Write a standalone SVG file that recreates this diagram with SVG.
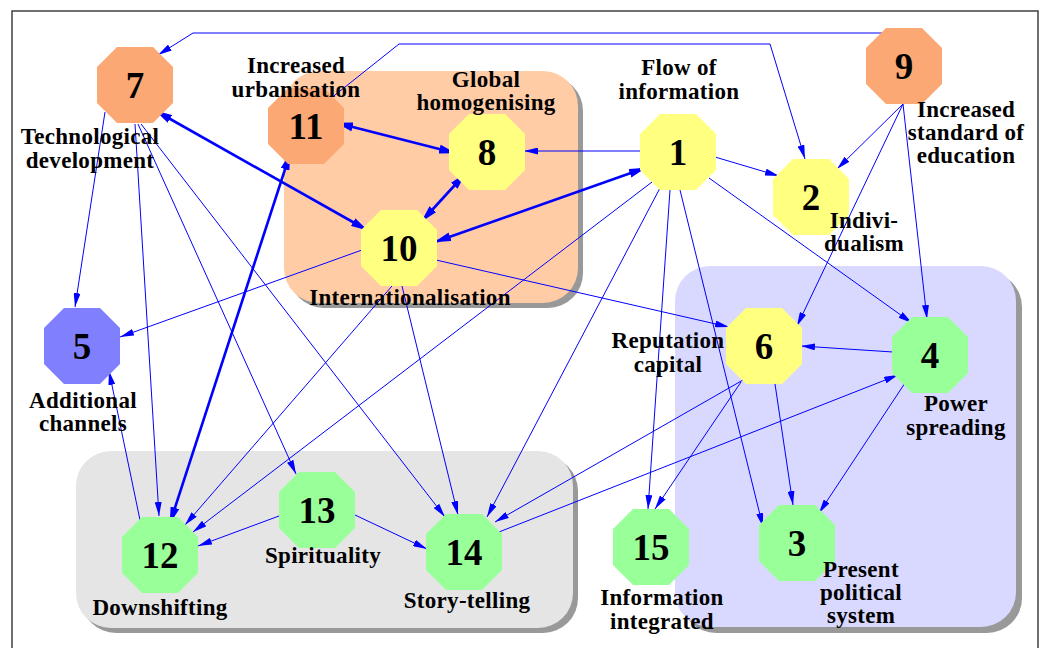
<svg xmlns="http://www.w3.org/2000/svg" xmlns:xlink="http://www.w3.org/1999/xlink" width="1042" height="648" viewBox="0 0 1042 648">
<style>
.frame{fill:#fff;stroke:#404040;stroke-width:1.5}
.shadow{fill:#999}
.e{fill:none;stroke:#0000ff;stroke-width:1;marker-end:url(#a)}
.t{fill:none;stroke:#0000ff;stroke-width:2.6;marker-start:url(#b);marker-end:url(#b)}
.num{font-family:"Liberation Serif","Times New Roman",serif;font-weight:bold;font-size:37px;text-anchor:middle;fill:#000}
.lb{font-family:"Liberation Serif","Times New Roman",serif;font-weight:bold;font-size:23px;letter-spacing:0.3px;text-anchor:middle;fill:#000}
.or{fill:#fca874}
.ye{fill:#ffff80}
.gr{fill:#99ff99}
.pu{fill:#8080ff}
</style>
<defs>
<polygon id="oct" points="-18,-38 18,-38 38,-18 38,18 18,38 -18,38 -38,18 -38,-18"/>
<marker id="a" viewBox="0 0 14 7" markerWidth="14" markerHeight="7" refX="14" refY="3.5" orient="auto-start-reverse" markerUnits="userSpaceOnUse"><path d="M0,0 L14,3.5 L0,7 z" fill="#0000ff"/></marker>
<marker id="b" viewBox="0 0 17 9" markerWidth="17" markerHeight="9" refX="16" refY="4.5" orient="auto-start-reverse" markerUnits="userSpaceOnUse"><path d="M0,0 L17,4.5 L0,9 z" fill="#0000ff"/></marker>
</defs>
<rect class="frame" x="12" y="11" width="1026" height="660"/>
<g id="groups">
<rect class="shadow" x="289" y="76" width="294" height="232" rx="35"/>
<rect x="284" y="71" width="294" height="232" rx="35" fill="#ffcca6"/>
<rect class="shadow" x="681" y="272" width="341" height="361" rx="35"/>
<rect x="675" y="266" width="341" height="361" rx="35" fill="#d9d9ff"/>
<rect class="shadow" x="81" y="456" width="497" height="177" rx="35"/>
<rect x="76" y="451" width="497" height="177" rx="35" fill="#e5e5e5"/>
</g>
<g id="connectors">
<path class="e" d="M882,33 L193,33 L158,55"/>
<path class="e" d="M330,99 L399,44 L770,44 L805,159"/>
<path class="e" d="M640,151 L524,151"/>
<path class="t" d="M337,123 L455,153"/>
<path class="t" d="M465,174 L422,221"/>
<path class="t" d="M156,111 L367,230"/>
<path class="t" d="M435,242 L645,168"/>
<path class="t" d="M290,154 L170,523"/>
<path class="e" d="M105,112 L75,307"/>
<path class="e" d="M135,124 L159,516"/>
<path class="e" d="M138,124 L296,474"/>
<path class="e" d="M141,124 L445,517"/>
<path class="e" d="M362,250 L120,337"/>
<path class="e" d="M436,260 L729,327"/>
<path class="e" d="M392,286 L185,525"/>
<path class="e" d="M402,286 L458,515"/>
<path class="e" d="M652,182 L193,532"/>
<path class="e" d="M660,188 L487,517"/>
<path class="e" d="M715,157 L779,176"/>
<path class="e" d="M709,178 L912,323"/>
<path class="e" d="M680,190 L763,527"/>
<path class="e" d="M670,190 L648,509"/>
<path class="e" d="M903,104 L837,169"/>
<path class="e" d="M903,104 L797,326"/>
<path class="e" d="M903,104 L927,319"/>
<path class="e" d="M893,352 L801,346"/>
<path class="e" d="M775,384 L793,505"/>
<path class="e" d="M905,383 L819,513"/>
<path class="e" d="M743,380 L495,522"/>
<path class="e" d="M741,382 L655,509"/>
<path class="e" d="M499,532 L898,375"/>
<path class="e" d="M279,516 L198,546"/>
<path class="e" d="M355,515 L427,549"/>
<path class="e" d="M140,520 L109,371"/>
</g>
<g id="n7"><use xlink:href="#oct" href="#oct" class="or" transform="translate(135,85)"/><text class="num" x="135" y="98">7</text><text class="lb" x="90" y="144">Technological<tspan x="90" y="168">development</tspan></text></g>
<g id="n11"><use xlink:href="#oct" href="#oct" class="or" transform="translate(306,126)"/><text class="num" x="306" y="139">11</text><text class="lb" x="296" y="73">Increased<tspan x="296" y="97">urbanisation</tspan></text></g>
<g id="n8"><use xlink:href="#oct" href="#oct" class="ye" transform="translate(487,152)"/><text class="num" x="487" y="165">8</text><text class="lb" x="486" y="87">Global<tspan x="486" y="110">homogenising</tspan></text></g>
<g id="n1"><use xlink:href="#oct" href="#oct" class="ye" transform="translate(678,152)"/><text class="num" x="678" y="165">1</text><text class="lb" x="679" y="75">Flow of<tspan x="679" y="99">information</tspan></text></g>
<g id="n2"><use xlink:href="#oct" href="#oct" class="ye" transform="translate(811,197)"/><text class="num" x="811" y="210">2</text><text class="lb" x="864" y="228">Indivi-<tspan x="864" y="251">dualism</tspan></text></g>
<g id="n9"><use xlink:href="#oct" href="#oct" class="or" transform="translate(904,66)"/><text class="num" x="904" y="79">9</text><text class="lb" x="966" y="117">Increased<tspan x="966" y="140">standard of</tspan><tspan x="966" y="163">education</tspan></text></g>
<g id="n10"><use xlink:href="#oct" href="#oct" class="ye" transform="translate(399,248)"/><text class="num" x="399" y="261">10</text><text class="lb" x="410" y="305">Internationalisation</text></g>
<g id="n5"><use xlink:href="#oct" href="#oct" class="pu" transform="translate(82,346)"/><text class="num" x="82" y="359">5</text><text class="lb" x="83" y="408">Additional<tspan x="83" y="431">channels</tspan></text></g>
<g id="n6"><use xlink:href="#oct" href="#oct" class="ye" transform="translate(764,346)"/><text class="num" x="764" y="359">6</text><text class="lb" x="668" y="348">Reputation<tspan x="668" y="372">capital</tspan></text></g>
<g id="n4"><use xlink:href="#oct" href="#oct" class="gr" transform="translate(930,355)"/><text class="num" x="930" y="368">4</text><text class="lb" x="956" y="411">Power<tspan x="956" y="435">spreading</tspan></text></g>
<g id="n12"><use xlink:href="#oct" href="#oct" class="gr" transform="translate(160,555)"/><text class="num" x="160" y="568">12</text><text class="lb" x="160" y="615">Downshifting</text></g>
<g id="n13"><use xlink:href="#oct" href="#oct" class="gr" transform="translate(317,510)"/><text class="num" x="317" y="523">13</text><text class="lb" x="323" y="563">Spirituality</text></g>
<g id="n14"><use xlink:href="#oct" href="#oct" class="gr" transform="translate(464,552)"/><text class="num" x="464" y="565">14</text><text class="lb" x="467" y="608">Story-telling</text></g>
<g id="n15"><use xlink:href="#oct" href="#oct" class="gr" transform="translate(651,547)"/><text class="num" x="651" y="560">15</text><text class="lb" x="662" y="605">Information<tspan x="662" y="629">integrated</tspan></text></g>
<g id="n3"><use xlink:href="#oct" href="#oct" class="gr" transform="translate(797,543)"/><text class="num" x="797" y="556">3</text><text class="lb" x="861" y="577">Present<tspan x="861" y="600">political</tspan><tspan x="861" y="623">system</tspan></text></g>
</svg>
